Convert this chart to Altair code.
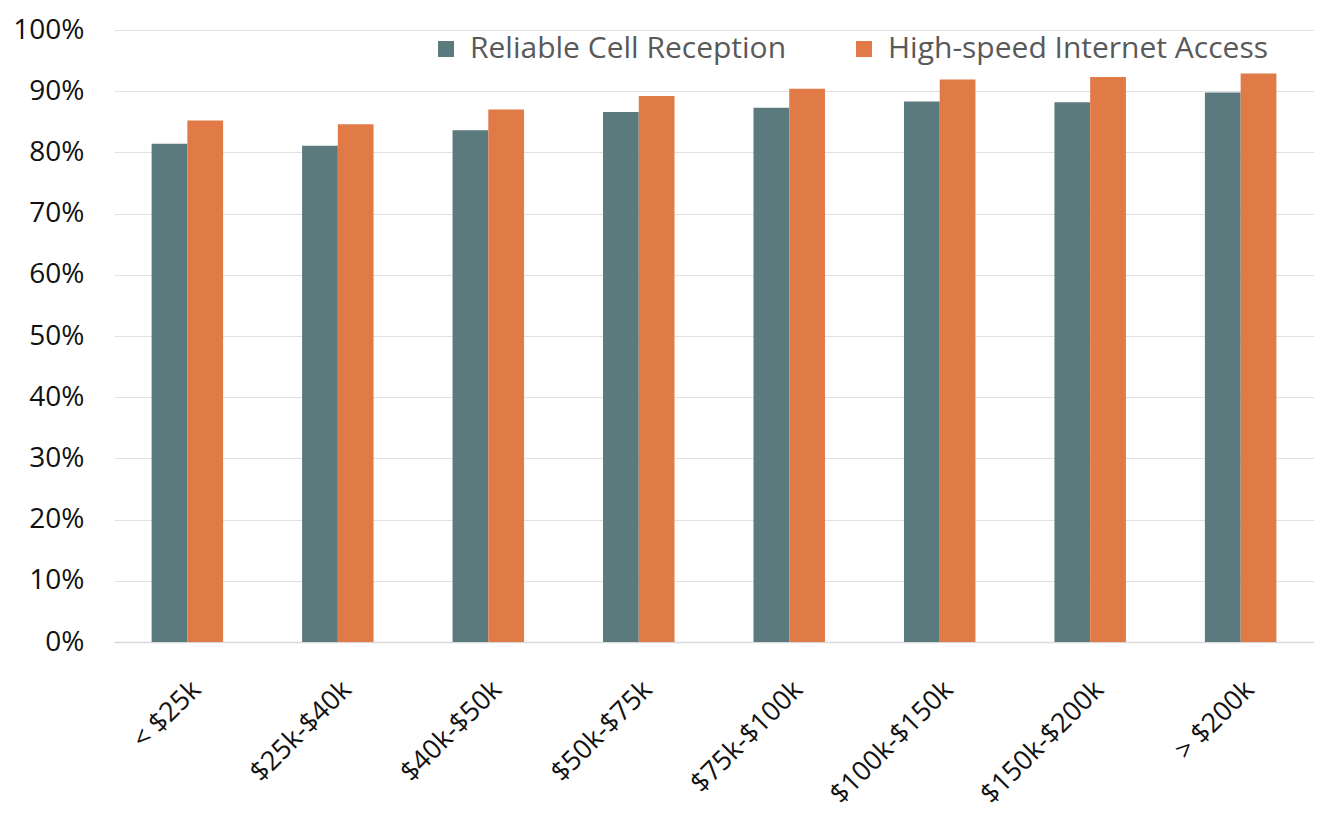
import altair as alt
import pandas as pd

categories = ["< $25k", "$25k-$40k", "$40k-$50k", "$50k-$75k",
              "$75k-$100k", "$100k-$150k", "$150k-$200k", "> $200k"]
series_names = ["Reliable Cell Reception", "High-speed Internet Access"]
cell_reception = [81.4, 81.1, 83.6, 86.6, 87.3, 88.3, 88.2, 89.8]
internet_access = [85.2, 84.6, 87.0, 89.2, 90.4, 91.9, 92.3, 92.9]
y_ticks = [0, 0.1, 0.2, 0.3, 0.4, 0.5, 0.6, 0.7, 0.8, 0.9, 1.0]
colors = ["#5b7a7e", "#e07a47"]

rows = []
for i, c in enumerate(categories):
    rows.append({"income": c, "series": series_names[0], "value": cell_reception[i] / 100})
    rows.append({"income": c, "series": series_names[1], "value": internet_access[i] / 100})
df = pd.DataFrame(rows)

FONT = "Open Sans"

chart = alt.Chart(df).mark_bar().encode(
    x=alt.X("income:N", sort=categories, title=None,
            scale=alt.Scale(paddingInner=0.525, paddingOuter=0.25),
            axis=alt.Axis(labelAngle=-45, labelFontSize=27, labelFont=FONT,
                          labelColor="#111111", ticks=False, domain=True,
                          domainColor="#d9d9d9", domainWidth=1.5, labelPadding=34,
                          labelOverlap=False, labelLimit=0)),
    xOffset=alt.XOffset("series:N", sort=series_names,
                        scale=alt.Scale(domain=series_names, paddingInner=0, paddingOuter=0)),
    y=alt.Y("value:Q", title=None,
            scale=alt.Scale(domain=[0, 1], nice=False),
            axis=alt.Axis(values=y_ticks, format=".0%", labelFontSize=28, labelFont=FONT,
                          labelColor="#111111", ticks=False, domain=False,
                          gridColor="#e0e0e0", gridWidth=1.2, labelPadding=30)),
    color=alt.Color("series:N", sort=series_names,
                    scale=alt.Scale(domain=series_names, range=colors),
                    legend=alt.Legend(title=None, orient="none", direction="horizontal",
                                      legendX=317, legendY=4, symbolType="square",
                                      symbolSize=256, symbolStrokeWidth=0,
                                      labelFontSize=30, labelFont=FONT, labelLimit=0,
                                      labelColor="#595959", columnPadding=62,
                                      labelOffset=9)),
).properties(
    width=1200, height=612,
    padding={"left": 4, "top": 8, "right": 0, "bottom": 0},
).configure_view(stroke=None)

chart.save("out.html", embed_options={"renderer": "svg", "actions": False})
